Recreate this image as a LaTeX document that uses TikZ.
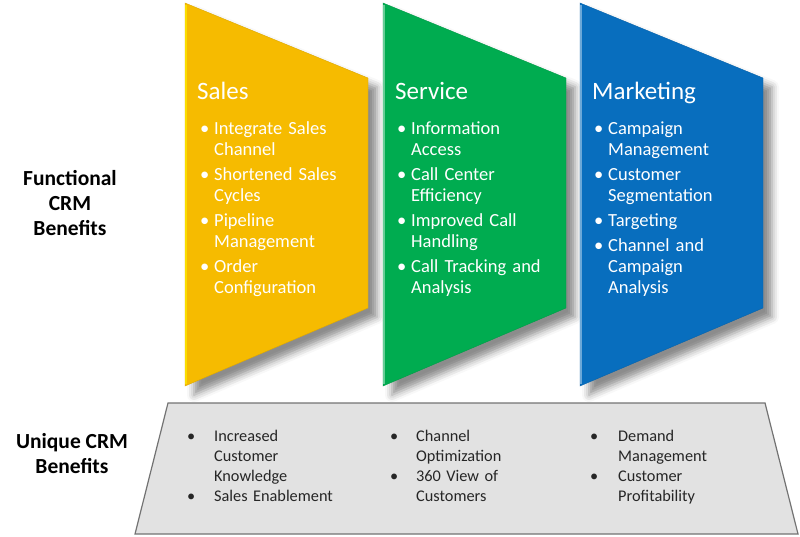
\documentclass[tikz,border=0pt]{standalone}
\usepackage{fontspec}
\setmainfont{Carlito}
\usetikzlibrary{shadows.blur}

\definecolor{salesgold}{RGB}{246,187,0}
\definecolor{servicegreen}{RGB}{0,172,80}
\definecolor{marketblue}{RGB}{8,110,190}
\definecolor{uniquegray}{RGB}{226,226,226}
\definecolor{edgegray}{RGB}{115,115,115}

\tikzset{
  panelshadow/.style={blur shadow={shadow xshift=9pt, shadow yshift=-9pt, shadow blur radius=7pt, shadow opacity=45}},
  headtext/.style={anchor=base west, inner sep=0pt, text=white, font=\fontsize{25}{30}\selectfont},
  listtext/.style={anchor=north west, inner sep=0pt, text=white, text width=180pt, align=left, font=\fontsize{18.5}{21}\selectfont},
  uniquetext/.style={anchor=north west, inner sep=0pt, text=black!85, text width=180pt, align=left, font=\fontsize{16.3}{20}\selectfont},
  sidetext/.style={inner sep=0pt, align=center, font=\bfseries\fontsize{21.5}{25}\selectfont}
}

% bullet item with hanging text
\newcommand{\crmitem}[2][14pt]{\par\hangindent=#1\hangafter=1\noindent\makebox[#1][l]{\textbullet}{\let\\\newline#2}}
\newcommand{\crmgap}{\par\vspace{4pt}}

\begin{document}
\begin{tikzpicture}[x=1pt, y=-1pt]
\useasboundingbox (0,0) rectangle (800,537);

% Sales
\filldraw [fill=salesgold, draw=salesgold!90!black, panelshadow] ( 185, 3 ) -- ( 368, 78 ) -- ( 368, 308 ) -- ( 185, 386 ) -- cycle;
\draw [line width=1.5pt, salesgold!50!yellow] ( 186, 5 ) -- ( 186, 384 );

% Service
\filldraw [fill=servicegreen, draw=servicegreen!90!black, panelshadow] ( 383, 3 ) -- ( 566, 78 ) -- ( 566, 308 ) -- ( 383, 386 ) -- cycle;
\draw [line width=1.5pt, servicegreen!60!white] ( 384, 5 ) -- ( 384, 384 );

% Marketing
\filldraw [fill=marketblue, draw=marketblue!90!black, panelshadow] ( 580, 3 ) -- ( 763, 78 ) -- ( 763, 308 ) -- ( 580, 386 ) -- cycle;
\draw [line width=1.5pt, marketblue!60!white] ( 581, 5 ) -- ( 581, 384 );

% Unique benefits base
\filldraw [fill=uniquegray, draw=edgegray, line width=1.2pt] ( 168, 403 ) -- ( 765, 403 ) -- ( 798, 534 ) -- ( 135, 534 ) -- cycle;

% Headings
\node (saleshead) at ( 197, 100 ) [headtext] {Sales};
\node (servicehead) at ( 395, 100 ) [headtext] {Service};
\node (markethead) at ( 592, 100 ) [headtext] {Marketing};

% Functional lists
\node (saleslist) at ( 200, 113 ) [listtext] {%
  \crmitem{Integrate Sales\\Channel}\crmgap
  \crmitem{Shortened Sales\\Cycles}\crmgap
  \crmitem{Pipeline\\Management}\crmgap
  \crmitem{Order\\Configuration}\par};
\node (servicelist) at ( 397, 113 ) [listtext] {%
  \crmitem{Information\\Access}\crmgap
  \crmitem{Call Center\\Efficiency}\crmgap
  \crmitem{Improved Call\\Handling}\crmgap
  \crmitem{Call Tracking and\\Analysis}\par};
\node (marketlist) at ( 594, 113 ) [listtext] {%
  \crmitem{Campaign\\Management}\crmgap
  \crmitem{Customer\\Segmentation}\crmgap
  \crmitem{Targeting}\crmgap
  \crmitem{Channel and\\Campaign\\Analysis}\par};

% Unique lists
\node (salesunique) at ( 187, 421 ) [uniquetext] {%
  \crmitem[27pt]{Increased\\Customer\\Knowledge}
  \crmitem[27pt]{Sales Enablement}\par};
\node (serviceunique) at ( 390, 421 ) [uniquetext] {%
  \crmitem[26pt]{Channel\\Optimization}
  \crmitem[26pt]{360 View of\\Customers}\par};
\node (marketunique) at ( 590, 421 ) [uniquetext] {%
  \crmitem[28pt]{Demand\\Management}
  \crmitem[28pt]{Customer\\Profitability}\par};

% Labels
\node (functional) at ( 70, 203 ) [sidetext] {Functional\\CRM\\Benefits};
\node (unique) at ( 72, 454 ) [sidetext] {Unique CRM\\Benefits};

\end{tikzpicture}
\end{document}
